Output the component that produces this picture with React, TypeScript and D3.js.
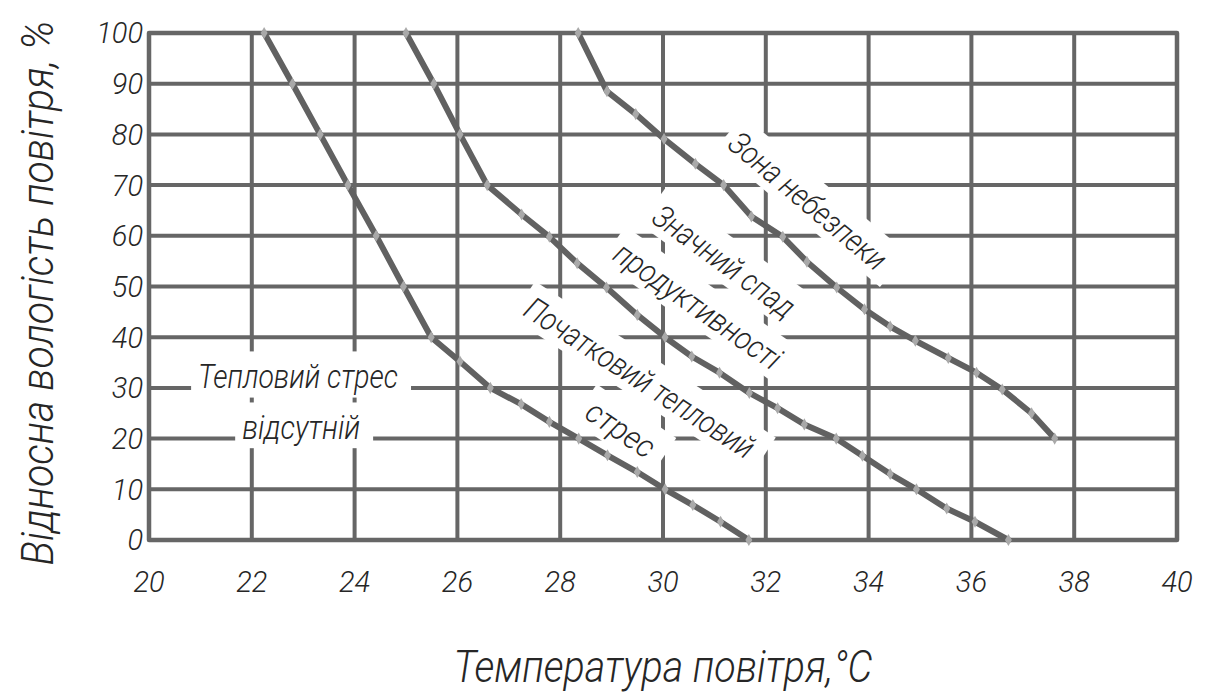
import React, { useEffect, useRef } from "react";
import * as d3 from "d3";

// ---- data ----
const xTickValues = [20, 22, 24, 26, 28, 30, 32, 34, 36, 38, 40];
const yTickValues = [0, 10, 20, 30, 40, 50, 60, 70, 80, 90, 100];

// boundary: no heat stress / initial heat stress
const noStressTemp = [22.24, 22.79, 23.33, 23.87, 24.42, 24.95, 25.49, 26.05, 26.64, 27.24, 27.79, 28.36, 28.92, 29.5, 30.04, 30.58, 31.12, 31.67];
const noStressHum = [100, 90, 80, 70, 60, 50, 40, 35.2, 30, 26.8, 23.3, 20, 16.7, 13.4, 10, 6.9, 3.6, 0];

// boundary: initial heat stress / significant productivity drop
const initialTemp = [25.0, 25.54, 26.05, 26.58, 27.25, 27.79, 28.33, 28.9, 29.5, 30.04, 30.56, 31.1, 31.68, 32.23, 32.75, 33.37, 33.88, 34.42, 34.93, 35.52, 36.07, 36.72];
const initialHum = [100, 90, 80, 70, 64.2, 59.8, 54.6, 49.8, 44.4, 40, 36.2, 33, 29, 26, 22.8, 20, 16.6, 13, 10, 6.2, 3.6, 0];

// boundary: significant productivity drop / danger zone
const dangerTemp = [28.35, 28.91, 29.47, 30.02, 30.63, 31.18, 31.72, 32.33, 32.8, 33.38, 33.92, 34.42, 34.91, 35.55, 36.1, 36.6, 37.17, 37.62];
const dangerHum = [100, 88.5, 84, 79.1, 74.2, 70, 63.8, 59.8, 54.9, 49.8, 45.5, 42.1, 39.3, 35.9, 33, 29.7, 25, 20];

const zoneNoStress = ["Тепловий стрес", "відсутній"];
const zoneInitial = ["Початковий тепловий", "стрес"];
const zoneDrop = ["Значний спад", "продуктивності"];
const zoneDanger = ["Зона небезпеки"];

const xTitle = "Температура повітря,°С";
const yTitle = "Відносна вологість повітря, %";

const W = 1211;
const H = 692;
const FONT = "Roboto, 'Open Sans', 'Liberation Sans', sans-serif";
const GRID = "#666666";
const LINE = "#616161";
const TXT = "#262626";

export default function App() {
  const ref = useRef<SVGSVGElement | null>(null);

  useEffect(() => {
    const svg = d3.select(ref.current);
    svg.selectAll("*").remove();

    const x = d3.scaleLinear().domain([20, 40]).range([149, 1177]);
    const y = d3.scaleLinear().domain([0, 100]).range([540, 33]);

    const gGrid = svg.append("g");
    const gBoxes = svg.append("g");
    const gLines = svg.append("g");
    const gText = svg.append("g");

    const styleText = (sel: any, size: number) =>
      sel.attr("font-family", FONT).attr("font-style", "italic")
        .attr("font-weight", 300).attr("font-size", size).attr("fill", TXT);

    // narrow a text to a target length with a horizontal scale
    const fitText = (el: any, target: number) => {
      const node = el.node() as SVGTextElement;
      const natural = node.getComputedTextLength();
      const sx = natural > 0 ? target / natural : 1;
      el.attr("transform", `scale(${sx},1)`);
      return sx;
    };

    // grid
    gGrid.selectAll("line.v").data(xTickValues).join("line")
      .attr("x1", (d) => x(d)).attr("x2", (d) => x(d))
      .attr("y1", y(0)).attr("y2", y(100))
      .attr("stroke", GRID).attr("stroke-width", 4);
    gGrid.selectAll("line.h").data(yTickValues).join("line")
      .attr("class", "h")
      .attr("x1", x(20)).attr("x2", x(40))
      .attr("y1", (d) => y(d)).attr("y2", (d) => y(d))
      .attr("stroke", GRID).attr("stroke-width", 4);
    gGrid.append("rect")
      .attr("x", x(20)).attr("y", y(100))
      .attr("width", x(40) - x(20)).attr("height", y(0) - y(100))
      .attr("fill", "none").attr("stroke", GRID).attr("stroke-width", 4.5)
      .attr("stroke-linejoin", "round");

    // tick labels
    styleText(gText.selectAll("text.xt").data(xTickValues).join("text")
      .attr("class", "xt")
      .attr("x", (d: number) => x(d)).attr("y", 592)
      .attr("text-anchor", "middle"), 29)
      .text((d: number) => String(d));
    styleText(gText.selectAll("text.yt").data(yTickValues).join("text")
      .attr("class", "yt")
      .attr("x", 143).attr("y", (d: number) => y(d))
      .attr("dy", "0.36em")
      .attr("text-anchor", "end"), 29)
      .text((d: number) => String(d));

    // axis titles
    const xt = styleText(gText.append("g").attr("transform", "translate(663,682)")
      .append("text").attr("text-anchor", "middle"), 45).text(xTitle);
    fitText(xt, 419);
    const yt = styleText(gText.append("g").attr("transform", "translate(53,293) rotate(-90)")
      .append("text").attr("text-anchor", "middle"), 45).text(yTitle);
    fitText(yt, 545);

    // curves
    const series = [
      { t: noStressTemp, h: noStressHum },
      { t: initialTemp, h: initialHum },
      { t: dangerTemp, h: dangerHum },
    ];
    const line = d3.line<[number, number]>().x((d) => x(d[0])).y((d) => y(d[1]));
    const diamond = d3.symbol().type(d3.symbolDiamond).size(42);
    series.forEach((s) => {
      const pts: [number, number][] = s.t.map((t, i) => [t, s.h[i]]);
      gLines.append("path").attr("d", line(pts) as string)
        .attr("fill", "none").attr("stroke", LINE).attr("stroke-width", 6)
        .attr("stroke-linejoin", "round").attr("stroke-linecap", "round");
      gLines.selectAll(null).data(pts).join("path")
        .attr("d", diamond() as string)
        .attr("transform", (d) => `translate(${x(d[0])},${y(d[1])})`)
        .attr("fill", "#a9a9a9");
    });

    // zone labels with white boxes behind
    const addLabel = (txt: string, t: number, h: number, angle: number, size: number, len: number, centered: boolean) => {
      const tr = `translate(${x(t)},${y(h)}) rotate(${angle})`;
      const g = gText.append("g").attr("transform", tr);
      const el = styleText(g.append("text")
        .attr("text-anchor", "middle")
        .attr("dy", centered ? "0.35em" : 0), size)
        .text(txt);
      const sx = fitText(el, len);
      const bb = (el.node() as SVGTextElement).getBBox();
      const x0 = bb.x * sx - 7;
      const w = bb.width * sx + 20;
      gBoxes.append("rect")
        .attr("transform", tr)
        .attr("x", x0).attr("y", bb.y - 5)
        .attr("width", w).attr("height", bb.height + 6)
        .attr("fill", "#fff");
    };

    addLabel(zoneNoStress[0], 22.9, 30, 0, 34, 200, false);
    addLabel(zoneNoStress[1], 22.96, 20, 0, 34, 118, false);
    addLabel(zoneDanger[0], 32.82, 66.9, 40, 32, 195, true);
    addLabel(zoneDrop[0], 31.19, 55.0, 36, 32, 167, true);
    addLabel(zoneDrop[1], 30.68, 46.2, 35, 32, 196, true);
    addLabel(zoneInitial[0], 29.55, 32.0, 33, 32, 267, true);
    addLabel(zoneInitial[1], 29.18, 21.9, 34, 32, 76, true);
  }, []);

  return (
    <svg
      ref={ref}
      width={W}
      height={H}
      style={{ position: "absolute", left: 0, top: 0, background: "#fff" }}
    />
  );
}
